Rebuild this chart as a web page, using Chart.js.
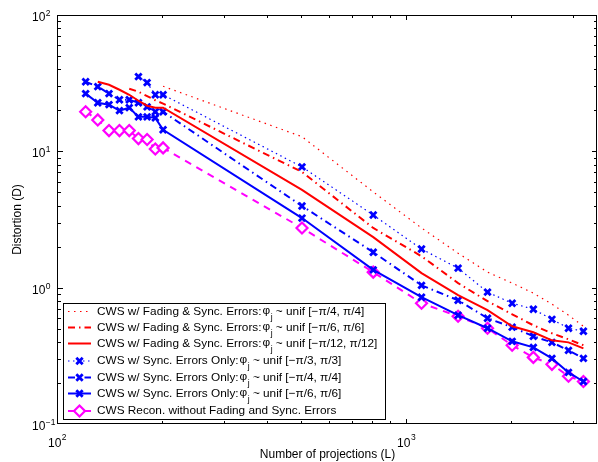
<!DOCTYPE html>
<html><head><meta charset="utf-8">
<script src="https://cdn.jsdelivr.net/npm/chart.js@4"></script>
<style>html,body{margin:0;padding:0;background:#fff}#wrap{width:598px;height:462px}</style>
</head><body><div id="wrap"><canvas id="c" width="598" height="462"></canvas></div>
<script>
// ---- data ----
const L = [120,130,140,150,160,170,180,190,200,500,800,1100,1400,1700,2000,2300,2600,2900,3200];
const fadePi4  = [null,null,null,null,null,null,null,null,30.0,12.8,5.04,2.74,1.79,1.30,1.08,0.912,0.757,0.628,0.521];
const fadePi6  = [null,null,null,null,28.8,27.4,25.4,23.7,22.4,7.06,2.74,1.70,1.08,0.796,0.638,0.530,0.463,0.418,0.378];
const fadePi12 = [null,32.4,30.8,28.3,26.0,23.5,21.6,20.9,20.9,5.21,2.35,1.28,0.881,0.684,0.521,0.471,0.411,0.397,0.359];
const syncPi3  = [null,null,null,null,null,35.3,31.9,26.0,26.0,7.69,3.41,1.92,1.39,0.927,0.769,0.695,0.586,0.504,0.479];
const syncPi4  = [32.4,29.8,26.5,23.9,23.9,22.7,21.2,19.5,19.5,3.97,1.82,1.04,0.809,0.597,0.513,0.440,0.397,0.347,0.303];
const syncPi6  = [26.5,22.7,22.0,19.9,20.9,17.9,17.9,17.6,14.4,3.24,1.35,0.851,0.628,0.504,0.404,0.365,0.303,0.239,0.205];
const recon    = [19.5,17.0,14.2,14.2,14.2,12.4,12.2,10.4,10.6,2.74,1.30,0.769,0.617,0.504,0.378,0.308,0.274,0.224,0.205];
const yTickExps = [-1,0,1,2];
const xTickExps = [2,3];
const legendPrefix = ["CWS w/ Fading & Sync. Errors:","CWS w/ Fading & Sync. Errors:","CWS w/ Fading & Sync. Errors:","CWS w/ Sync. Errors Only:","CWS w/ Sync. Errors Only:","CWS w/ Sync. Errors Only:"];
const legendSuffix = [" ~ unif [\u2212\u03c0/4, \u03c0/4]"," ~ unif [\u2212\u03c0/6, \u03c0/6]"," ~ unif [\u2212\u03c0/12, \u03c0/12]"," ~ unif [\u2212\u03c0/3, \u03c0/3]"," ~ unif [\u2212\u03c0/4, \u03c0/4]"," ~ unif [\u2212\u03c0/6, \u03c0/6]"];
const legendLast = "CWS Recon. without Fading and Sync. Errors";

const FONT = '"Liberation Sans", Arial, Helvetica, sans-serif';
Chart.defaults.font.family = FONT;
Chart.defaults.font.size = 12;
Chart.defaults.color = '#000';

function pts(arr){ const o=[]; arr.forEach((v,i)=>{ if(v!==null) o.push({x:L[i],y:v}); }); return o; }

const RED='#ff0000', BLUE='#0000ff', MAG='#ff00ff';
const DASHDOT=[7,4,1.5,4];
const datasets = [
 {data:pts(fadePi4), borderColor:RED, borderWidth:1.2, borderDash:[1.5,4.5], pointRadius:0},
 {data:pts(fadePi6), borderColor:RED, borderWidth:2, borderDash:DASHDOT, pointRadius:0},
 {data:pts(fadePi12), borderColor:RED, borderWidth:2, pointRadius:0},
 {data:pts(syncPi3), borderColor:BLUE, borderWidth:1.2, borderDash:[1.5,3.5], pointStyle:'crossRot', pointRadius:4.5, pointBorderWidth:2.8, pointBorderColor:BLUE},
 {data:pts(syncPi4), borderColor:BLUE, borderWidth:2, borderDash:DASHDOT, pointStyle:'crossRot', pointRadius:4.5, pointBorderWidth:2.8, pointBorderColor:BLUE},
 {data:pts(syncPi6), borderColor:BLUE, borderWidth:2, pointStyle:'crossRot', pointRadius:4.5, pointBorderWidth:2.8, pointBorderColor:BLUE},
 {data:pts(recon), borderColor:MAG, borderWidth:2, borderDash:[7,6], pointStyle:'rectRot', pointRadius:5.5, pointBorderWidth:2.2, pointBorderColor:MAG, pointBackgroundColor:'#fff'}
].map(d=>Object.assign({showLine:true, fill:false, tension:0, pointHoverRadius:0}, d));

const decor = {
 id:'decor',
 afterDraw(chart){
  const {ctx, chartArea:a, scales:{x,y}} = chart;
  ctx.save();
  ctx.strokeStyle='#000'; ctx.lineWidth=1; ctx.setLineDash([]);
  ctx.strokeRect(Math.round(a.left)-0.5, Math.round(a.top)+0.5, Math.round(a.right-a.left), Math.round(a.bottom-a.top)-1);
  ctx.beginPath();
  for(let e=-1;e<2;e++) for(let m=1;m<10;m++){
    const v=m*Math.pow(10,e); const py=Math.round(y.getPixelForValue(v))+0.5; const len=m===1?5:3;
    if(m===1&&e===-1) continue;
    ctx.moveTo(a.left,py); ctx.lineTo(a.left+len,py);
    ctx.moveTo(a.right,py); ctx.lineTo(a.right-len,py);
  }
  for(let e=2;e<4;e++) for(let m=1;m<10;m++){
    const v=m*Math.pow(10,e); if(v>x.max) break; const px=Math.round(x.getPixelForValue(v))-0.5; const len=m===1?5:3;
    if(v===100) continue;
    ctx.moveTo(px,a.bottom); ctx.lineTo(px,a.bottom-len);
    ctx.moveTo(px,a.top); ctx.lineTo(px,a.top+len);
  }
  ctx.stroke();
  ctx.fillStyle='#000'; ctx.textAlign='left'; ctx.textBaseline='alphabetic';
  yTickExps.forEach(e=>{
    const py=y.getPixelForValue(Math.pow(10,e));
    ctx.font='12px '+FONT; ctx.fillText('10',32,py+6);
    const w=ctx.measureText('10').width;
    ctx.font='8.5px '+FONT; ctx.fillText(e<0?'\u2212'+(-e):String(e),32+w+0.5,py+1);
  });
  xTickExps.forEach(e=>{
    const px=x.getPixelForValue(Math.pow(10,e));
    ctx.font='12px '+FONT; const w=ctx.measureText('10').width;
    ctx.fillText('10',px-10,447);
    ctx.font='8.5px '+FONT; ctx.fillText(String(e),px-10+w+0.5,440);
  });
  const bx=63.5, by=303.5, bw=322, bh=116;
  ctx.fillStyle='#fff'; ctx.fillRect(bx,by,bw,bh);
  ctx.strokeStyle='#000'; ctx.lineWidth=1; ctx.strokeRect(bx,by,bw,bh);
  const rows=[311.5,327.5,343.5,361,377.5,393.5,411];
  const LF='11.8px '+FONT;
  chart.data.datasets.forEach((ds,i)=>{
    const ry=rows[i];
    ctx.save();
    ctx.strokeStyle=ds.borderColor; ctx.lineWidth=ds.borderWidth;
    ctx.setLineDash(i===6?[]:(ds.borderDash||[]));
    ctx.beginPath(); ctx.moveTo(68,ry); ctx.lineTo(91,ry); ctx.stroke();
    ctx.restore();
    ctx.save();
    ctx.strokeStyle=ds.pointBorderColor||ds.borderColor; ctx.fillStyle=ds.pointBackgroundColor||ds.borderColor;
    ctx.lineWidth=ds.pointBorderWidth||1;
    if(ds.pointRadius>0){
      Chart.helpers.drawPoint(ctx,{pointStyle:ds.pointStyle, radius:ds.pointRadius, borderWidth:ds.pointBorderWidth},79.5,ry);
    }
    ctx.restore();
    ctx.fillStyle='#000'; ctx.textBaseline='middle'; ctx.textAlign='left';
    ctx.font=LF;
    if(i<6){
      let tx=97; ctx.fillText(legendPrefix[i],tx,ry); tx+=ctx.measureText(legendPrefix[i]).width+1;
      ctx.fillText('\u03c6',tx,ry-1); tx+=ctx.measureText('\u03c6').width;
      ctx.font='8.5px '+FONT; ctx.textBaseline='alphabetic'; ctx.fillText('j',tx+0.5,ry+8); tx+=ctx.measureText('j').width+0.5;
      ctx.font=LF; ctx.textBaseline='middle'; ctx.fillText(legendSuffix[i],tx,ry);
    } else {
      ctx.fillText(legendLast,97,ry);
    }
  });
  ctx.restore();
 }
};

new Chart(document.getElementById('c'), {
  type:'scatter',
  data:{datasets},
  options:{
    responsive:false, animation:false, devicePixelRatio:1,
    layout:{autoPadding:false, padding:{top:15,right:1,left:0,bottom:0}},
    plugins:{legend:{display:false}, tooltip:{enabled:false}},
    events:[],
    scales:{
      x:{type:'logarithmic', min:100, max:3500,
         ticks:{display:false}, grid:{display:false}, border:{display:false},
         title:{display:true, text:'Number of projections (L)', font:{size:12}, padding:{top:0,bottom:0}},
         afterFit(s){ s.height=38; s.paddingLeft=0; s.paddingRight=0; }},
      y:{type:'logarithmic', min:0.1, max:100,
         ticks:{display:false}, grid:{display:false}, border:{display:false},
         title:{display:true, text:'Distortion (D)', font:{size:12}, padding:{top:10.8,bottom:0}},
         afterFit(s){ s.width=58; s.paddingTop=0; s.paddingBottom=0; }}
    }
  },
  plugins:[decor]
});
</script></body></html>
